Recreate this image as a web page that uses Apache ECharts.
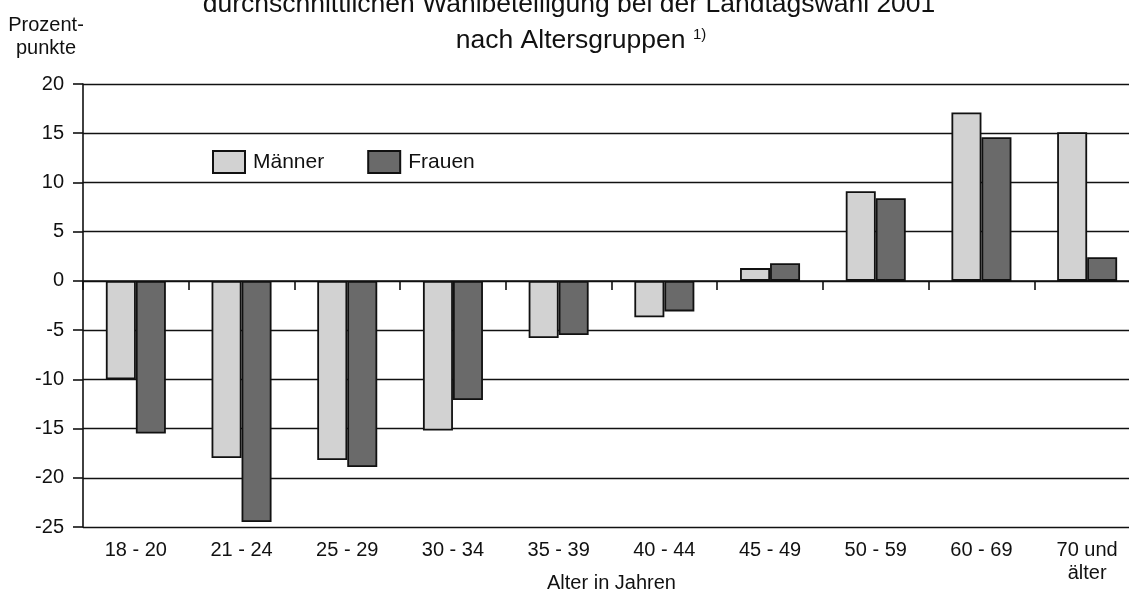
<!DOCTYPE html>
<html>
<head>
<meta charset="utf-8">
<style>
  html, body { margin: 0; padding: 0; background: #fff; }
  #chart { width: 1129px; height: 595px; }
</style>
<script src="https://cdn.jsdelivr.net/npm/echarts@6/dist/echarts.min.js"></script>
</head>
<body>
<div id="chart"></div>
<script>
// Altersgruppen
const ageGroups = ['18 - 20', '21 - 24', '25 - 29', '30 - 34', '35 - 39', '40 - 44', '45 - 49', '50 - 59', '60 - 69', '70 und\nälter']
// Abweichung in Prozentpunkten
const maenner = [-10.0, -18.0, -18.2, -15.2, -5.8, -3.7, 1.3, 9.1, 17.1, 15.1]
const frauen = [-15.5, -24.5, -18.9, -12.1, -5.5, -3.1, 1.8, 8.4, 14.6, 2.4]

const fontFamily = '"Liberation Sans", Arial, Helvetica, sans-serif'

const chart = echarts.init(document.getElementById('chart'))

const option = {
  backgroundColor: '#fff',
  animation: false,
  textStyle: { fontFamily: fontFamily, color: '#111' },
  graphic: [
    // erste Titelzeile, oben abgeschnitten wie im Original
    {
      type: 'text',
      x: 569,
      y: 5,
      style: {
        text: 'durchschnittlichen Wahlbeteiligung bei der Landtagswahl 2001',
        font: '26.5px ' + fontFamily,
        fill: '#111',
        align: 'center',
        verticalAlign: 'middle'
      }
    },
    {
      type: 'text',
      x: 581,
      y: 41,
      style: {
        text: '{a|nach Altersgruppen }{s|1)}',
        fill: '#111',
        align: 'center',
        verticalAlign: 'middle',
        rich: {
          a: { fontSize: 26.5, fontFamily: fontFamily, color: '#111' },
          s: { fontSize: 15, fontFamily: fontFamily, color: '#111', padding: [0, 0, 12, 0] }
        }
      }
    },
    {
      type: 'text',
      x: 46,
      y: 14,
      style: {
        text: 'Prozent-\npunkte',
        font: '20px ' + fontFamily,
        lineHeight: 23,
        fill: '#111',
        align: 'center',
        verticalAlign: 'top'
      }
    }
  ],
  legend: {
    left: 207,
    top: 145,
    itemWidth: 32,
    itemHeight: 22,
    itemGap: 43,
    icon: 'rect',
    data: ['Männer', 'Frauen'],
    textStyle: { fontSize: 21, color: '#111', padding: [0, 0, 0, 3] }
  },
  grid: {
    left: 83,
    top: 84,
    width: 1057,
    bottom: 68,
    outerBoundsMode: 'none'
  },
  xAxis: [
    {
      // Achse bei 0 mit Strichen nach unten
      type: 'category',
      data: ageGroups,
      axisLine: { onZero: true, lineStyle: { color: '#111', width: 1.6 } },
      axisTick: { show: true, inside: false, length: 9, lineStyle: { color: '#111', width: 1.6 } },
      axisLabel: { show: false },
      splitLine: { show: false }
    },
    {
      // Beschriftung unten
      type: 'category',
      data: ageGroups,
      position: 'bottom',
      axisLine: { show: false, onZero: false },
      axisTick: { show: false },
      axisLabel: { fontSize: 20, color: '#111', margin: 12, lineHeight: 23 },
      name: 'Alter in Jahren',
      nameLocation: 'middle',
      nameGap: 46,
      nameMoveOverlap: false,
      nameTextStyle: { fontSize: 20, color: '#111' }
    }
  ],
  yAxis: {
    type: 'value',
    min: -25,
    max: 20,
    interval: 5,
    axisLine: { show: true, lineStyle: { color: '#111', width: 1.6 } },
    axisTick: { show: true, length: 10, lineStyle: { color: '#111', width: 1.6 } },
    axisLabel: { fontSize: 20, color: '#111', margin: 19 },
    splitLine: { show: true, lineStyle: { color: '#111', width: 1.4 } }
  },
  series: [
    {
      name: 'Männer',
      type: 'bar',
      xAxisIndex: 0,
      data: maenner,
      barWidth: 30,
      barGap: '0%',
      itemStyle: { color: '#d2d2d2', borderColor: '#111', borderWidth: 1.8 }
    },
    {
      name: 'Frauen',
      type: 'bar',
      xAxisIndex: 0,
      data: frauen,
      barWidth: 30,
      barGap: '0%',
      itemStyle: { color: '#6a6a6a', borderColor: '#111', borderWidth: 1.8 }
    }
  ]
}

chart.setOption(option)
</script>
</body>
</html>
